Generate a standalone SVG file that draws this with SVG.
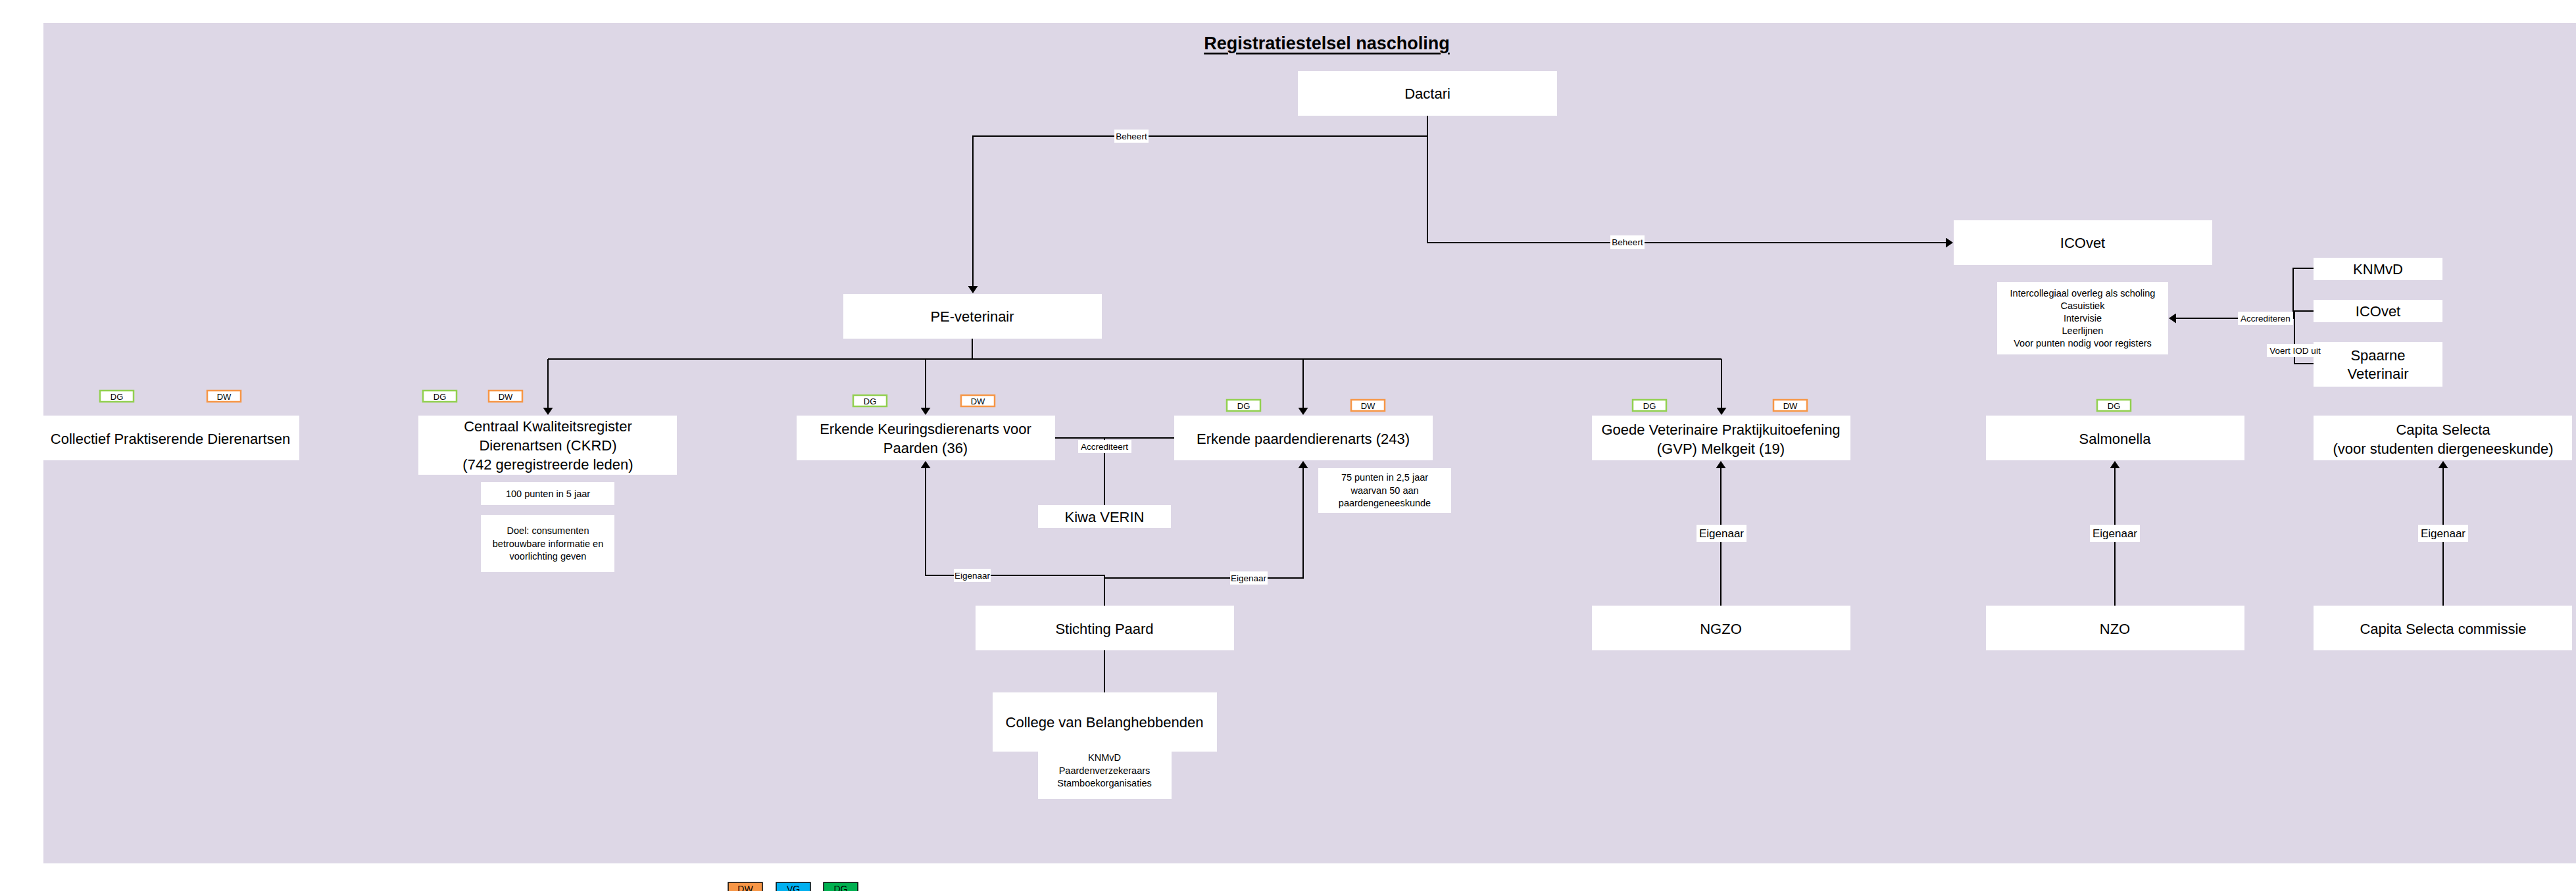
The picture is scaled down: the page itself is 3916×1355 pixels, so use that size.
<svg xmlns="http://www.w3.org/2000/svg" width="3916" height="1355" viewBox="0 0 3916 1355">
<style>
text{font-family:"Liberation Sans",Arial,sans-serif;fill:#000;text-anchor:middle;dominant-baseline:central}
.n{font-size:22px}
.s{font-size:14.5px}
.l{font-size:13.5px}
.lg{font-size:17px}
.box{fill:#fff}
.c{stroke:#000;stroke-width:2;fill:none}
.lb{fill:#fff}
.dg{fill:#fff;stroke:#92D050;stroke-width:2.5}
.dw{fill:#fff;stroke:#F79646;stroke-width:2.5}
.bt{font-size:13px}
.leg{stroke:#000;stroke-width:1.5}
</style>
<defs>
<marker id="ar" markerUnits="userSpaceOnUse" markerWidth="11" markerHeight="15" refX="10" refY="7.5" orient="auto">
<path d="M0,0 L11,7.5 L0,15 z" fill="#000"/>
</marker>
</defs>
<rect x="66" y="35" width="3850" height="1278" fill="#DDD7E6"/>
<text x="2017" y="66" style="font-size:27px;font-weight:bold;text-decoration:underline">Registratiestelsel nascholing</text>

<g id="dactari"><rect class="box" x="1973" y="108" width="394" height="68"/><text class="n" x="2170" y="142">Dactari</text></g>
<g id="icovet"><rect class="box" x="2970" y="335" width="393" height="68"/><text class="n" x="3166" y="369">ICOvet</text></g>
<g id="pe-veterinair"><rect class="box" x="1282" y="447" width="393" height="68"/><text class="n" x="1478" y="481">PE-veterinair</text></g>
<g id="collectief"><rect class="box" x="66" y="632" width="389" height="68"/><text class="n" x="259" y="667">Collectief Praktiserende Dierenartsen</text></g>
<g id="ckrd"><rect class="box" x="636" y="632" width="393" height="90"/>
<text class="n" x="833" y="648">Centraal Kwaliteitsregister</text>
<text class="n" x="833" y="677">Dierenartsen (CKRD)</text>
<text class="n" x="833" y="706">(742 geregistreerde leden)</text></g>
<g id="ckrd-punten"><rect class="box" x="731" y="733" width="203" height="35"/><text class="s" x="833" y="751">100 punten in 5 jaar</text></g>
<g id="ckrd-doel"><rect class="box" x="731" y="783" width="203" height="87"/>
<text class="s" x="833" y="807">Doel: consumenten</text>
<text class="s" x="833" y="827">betrouwbare informatie en</text>
<text class="s" x="833" y="846">voorlichting geven</text></g>
<g id="keurings"><rect class="box" x="1211" y="632" width="393" height="68"/>
<text class="n" x="1407" y="652">Erkende Keuringsdierenarts voor</text>
<text class="n" x="1407" y="681">Paarden (36)</text></g>
<g id="paardendierenarts"><rect class="box" x="1785" y="632" width="393" height="68"/><text class="n" x="1981" y="667">Erkende paardendierenarts (243)</text></g>
<g id="kiwa"><rect class="box" x="1578" y="768" width="202" height="35"/><text class="n" x="1679" y="786">Kiwa VERIN</text></g>
<g id="paard-punten"><rect class="box" x="2004" y="712" width="202" height="68"/>
<text class="s" x="2105" y="726">75 punten in 2,5 jaar</text>
<text class="s" x="2105" y="746">waarvan 50 aan</text>
<text class="s" x="2105" y="765">paardengeneeskunde</text></g>
<g id="stichting-paard"><rect class="box" x="1483" y="921" width="393" height="68"/><text class="n" x="1679" y="956">Stichting Paard</text></g>
<g id="college"><rect class="box" x="1509" y="1053" width="341" height="90"/><text class="n" x="1679" y="1098">College van Belanghebbenden</text>
<rect class="box" x="1578" y="1143" width="203" height="72"/>
<text class="s" x="1679" y="1152">KNMvD</text>
<text class="s" x="1679" y="1172">Paardenverzekeraars</text>
<text class="s" x="1679" y="1191">Stamboekorganisaties</text></g>
<g id="gvp"><rect class="box" x="2420" y="632" width="393" height="68"/>
<text class="n" x="2616" y="653">Goede Veterinaire Praktijkuitoefening</text>
<text class="n" x="2616" y="682">(GVP) Melkgeit (19)</text></g>
<g id="salmonella"><rect class="box" x="3019" y="632" width="393" height="68"/><text class="n" x="3215" y="667">Salmonella</text></g>
<g id="capita-selecta"><rect class="box" x="3517" y="632" width="393" height="68"/>
<text class="n" x="3714" y="653">Capita Selecta</text>
<text class="n" x="3714" y="682">(voor studenten diergeneeskunde)</text></g>
<g id="ngzo"><rect class="box" x="2420" y="921" width="393" height="68"/><text class="n" x="2616" y="956">NGZO</text></g>
<g id="nzo"><rect class="box" x="3019" y="921" width="393" height="68"/><text class="n" x="3215" y="956">NZO</text></g>
<g id="capita-commissie"><rect class="box" x="3517" y="921" width="393" height="68"/><text class="n" x="3714" y="956">Capita Selecta commissie</text></g>
<g id="icovet-info"><rect class="box" x="3036" y="429" width="260" height="110"/>
<text class="s" x="3166" y="446">Intercollegiaal overleg als scholing</text>
<text class="s" x="3166" y="465">Casuistiek</text>
<text class="s" x="3166" y="484">Intervisie</text>
<text class="s" x="3166" y="503">Leerlijnen</text>
<text class="s" x="3166" y="522">Voor punten nodig voor registers</text></g>
<g id="knmvd"><rect class="box" x="3517" y="392" width="196" height="34"/><text class="n" x="3615" y="409">KNMvD</text></g>
<g id="icovet-small"><rect class="box" x="3517" y="456" width="196" height="34"/><text class="n" x="3615" y="473">ICOvet</text></g>
<g id="spaarne"><rect class="box" x="3517" y="520" width="196" height="68"/>
<text class="n" x="3615" y="540">Spaarne</text>
<text class="n" x="3615" y="568">Veterinair</text></g>

<g id="badges">
<rect class="dg" x="152" y="594" width="51" height="17"/><text class="bt" x="177.5" y="603">DG</text>
<rect class="dw" x="315" y="594" width="51" height="17"/><text class="bt" x="340.5" y="603">DW</text>
<rect class="dg" x="643" y="594" width="51" height="17"/><text class="bt" x="668.5" y="603">DG</text>
<rect class="dw" x="743" y="594" width="51" height="17"/><text class="bt" x="768.5" y="603">DW</text>
<rect class="dg" x="1297" y="601" width="51" height="17"/><text class="bt" x="1322.5" y="610">DG</text>
<rect class="dw" x="1461" y="601" width="51" height="17"/><text class="bt" x="1486.5" y="610">DW</text>
<rect class="dg" x="1865" y="608" width="51" height="17"/><text class="bt" x="1890.5" y="617">DG</text>
<rect class="dw" x="2054" y="608" width="51" height="17"/><text class="bt" x="2079.5" y="617">DW</text>
<rect class="dg" x="2482" y="608" width="51" height="17"/><text class="bt" x="2507.5" y="617">DG</text>
<rect class="dw" x="2696" y="608" width="51" height="17"/><text class="bt" x="2721.5" y="617">DW</text>
<rect class="dg" x="3188" y="608" width="51" height="17"/><text class="bt" x="3213.5" y="617">DG</text>
</g>

<g id="connectors">
<path class="c" d="M2170,176 V369 H2968" marker-end="url(#ar)"/>
<path class="c" d="M2170,207 H1479 V445" marker-end="url(#ar)"/>
<path class="c" d="M1478,515 V546"/>
<path class="c" d="M833,546 H2617"/>
<path class="c" d="M833,546 V630" marker-end="url(#ar)"/>
<path class="c" d="M1407,546 V630" marker-end="url(#ar)"/>
<path class="c" d="M1981,546 V630" marker-end="url(#ar)"/>
<path class="c" d="M2617,546 V630" marker-end="url(#ar)"/>
<path class="c" d="M1604,666 H1785 M1679,666 V768"/>
<path class="c" d="M1679,921 V875 H1407 V702" marker-end="url(#ar)"/>
<path class="c" d="M1679,879 H1981 V702" marker-end="url(#ar)"/>
<path class="c" d="M1679,989 V1053"/>
<path class="c" d="M2616,921 V702" marker-end="url(#ar)"/>
<path class="c" d="M3215,921 V702" marker-end="url(#ar)"/>
<path class="c" d="M3714,921 V702" marker-end="url(#ar)"/>
<path class="c" d="M3517,408 H3486 V484 H3298" marker-end="url(#ar)"/>
<path class="c" d="M3517,473 H3488 V553 H3517"/>
<rect class="lb" x="1694" y="197" width="52" height="20"/><text class="l" x="1720" y="207">Beheert</text>
<rect class="lb" x="2448" y="358" width="52" height="21"/><text class="l" x="2474" y="368">Beheert</text>
<rect class="lb" x="1639" y="669" width="81" height="20"/><text class="l" x="1679" y="679">Accrediteert</text>
<rect class="lb" x="1450" y="865" width="56" height="20"/><text class="l" x="1478" y="875">Eigenaar</text>
<rect class="lb" x="1870" y="869" width="57" height="20"/><text class="l" x="1898" y="879">Eigenaar</text>
<rect class="lb" x="2579" y="798" width="76" height="26"/><text class="lg" x="2617" y="811">Eigenaar</text>
<rect class="lb" x="3177" y="798" width="76" height="26"/><text class="lg" x="3215" y="811">Eigenaar</text>
<rect class="lb" x="3676" y="798" width="76" height="26"/><text class="lg" x="3714" y="811">Eigenaar</text>
<rect class="lb" x="3402" y="474" width="84" height="20"/><text class="l" x="3444" y="484">Accrediteren</text>
<rect class="lb" x="3446" y="523" width="86" height="20"/><text class="l" x="3489" y="533">Voert IOD uit</text>
</g>

<g id="legend">
<rect class="leg" x="1107" y="1342" width="52" height="20" fill="#F79646"/><text style="font-size:14px" x="1133" y="1352">DW</text>
<rect class="leg" x="1180" y="1342" width="52" height="20" fill="#00B0F0"/><text style="font-size:14px" x="1206" y="1352">VG</text>
<rect class="leg" x="1252" y="1342" width="52" height="20" fill="#00B050"/><text style="font-size:14px" x="1278" y="1352">DG</text>
</g>
</svg>
